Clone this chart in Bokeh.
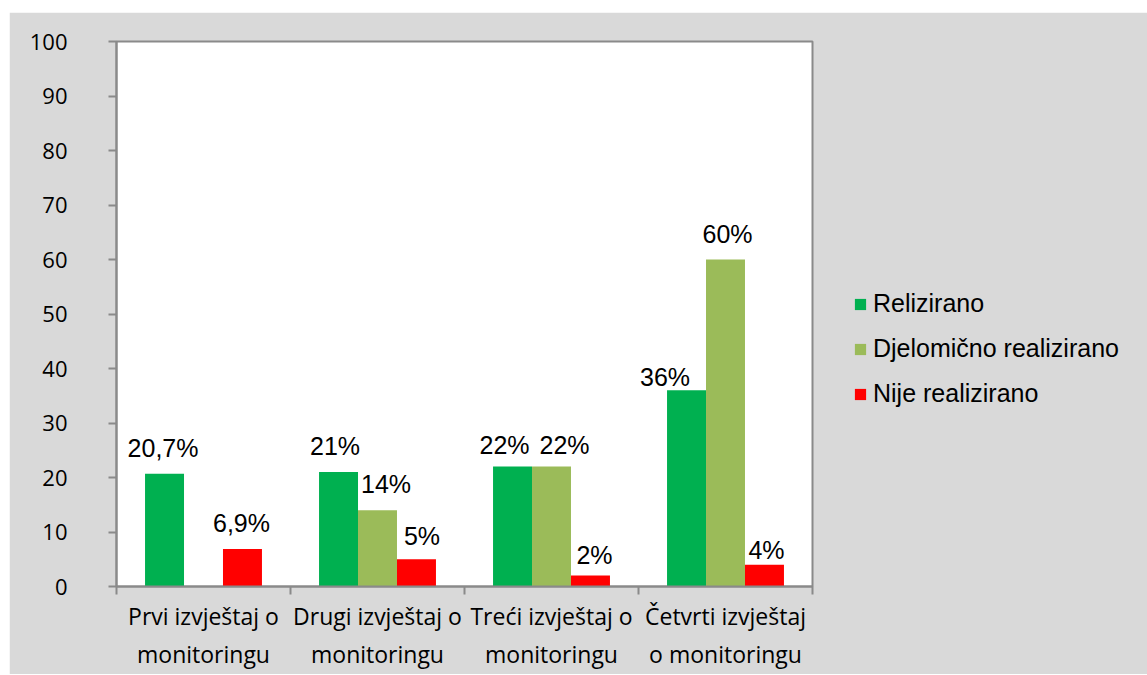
from bokeh.plotting import figure
from bokeh.models import (ColumnDataSource, Range1d, FixedTicker, Legend, LegendItem,
                          LinearAxis, Spacer)
from bokeh.layouts import column, row
from bokeh.transform import dodge
from bokeh.core.properties import value
from bokeh.embed import file_html
from bokeh.resources import INLINE

# ---- data ----
categories = ["Prvi izvještaj o\nmonitoringu", "Drugi izvještaj o\nmonitoringu",
              "Treći izvještaj o\nmonitoringu", "Četvrti izvještaj\no monitoringu"]
relizirano = [20.7, 21, 22, 36]
djelomicno = [float("nan"), 14, 22, 60]
nije = [6.9, 5, 2, 4]
relizirano_lbl = ["20,7%", "21%", "22%", "36%"]
djelomicno_lbl = ["", "14%", "22%", "60%"]
nije_lbl = ["6,9%", "5%", "2%", "4%"]
series_names = ["Relizirano", "Djelomično realizirano", "Nije realizirano"]
y_ticks = list(range(0, 101, 10))

# ---- styles ----
colors = ["#00b050", "#9bbb59", "#ff0000"]
grid_col = "#8a8a8a"
bg = "#d9d9d9"
bar_w = 0.224
offsets = [-bar_w, 0.0, bar_w]
lbl_dx = [[-1.5, -3.5, -8, -21.5], [0, 8.5, 13, 2], [-1, 5.5, 4, 2]]
lbl_dy = [[-26, -26, -22, -13], [0, -26, -22, -26], [-26, -23, -21, -15]]

centers = [i + 0.5 for i in range(len(categories))]
src = ColumnDataSource(dict(
    xc=centers, rel=relizirano, dje=djelomicno, nij=nije,
    rel_l=relizirano_lbl, dje_l=djelomicno_lbl, nij_l=nije_lbl,
    rel_dx=lbl_dx[0], dje_dx=lbl_dx[1], nij_dx=lbl_dx[2],
    rel_dy=lbl_dy[0], dje_dy=lbl_dy[1], nij_dy=lbl_dy[2],
))

p = figure(frame_width=696, frame_height=545, output_backend="svg", toolbar_location=None,
           x_range=Range1d(0, len(categories)), y_range=Range1d(0, 100),
           x_axis_type=None, y_axis_type=None,
           min_border_left=107, min_border_right=0, min_border_top=29, min_border_bottom=88)
p.background_fill_color = "white"
p.border_fill_color = bg
p.outline_line_color = grid_col
p.outline_line_width = 2

# y axis
yax = LinearAxis(ticker=FixedTicker(ticks=y_ticks))
yax.axis_line_color = grid_col
yax.axis_line_width = 2
yax.major_tick_line_color = grid_col
yax.major_tick_line_width = 2
yax.major_tick_out = 8
yax.major_tick_in = 0
yax.minor_tick_line_color = None
yax.major_label_standoff = 41
yax.major_label_text_font = "Open Sans"
yax.major_label_text_font_size = "22px"
yax.major_label_text_color = "black"
p.add_layout(yax, "left")

# x axis
xax = LinearAxis(ticker=FixedTicker(ticks=centers, minor_ticks=list(range(len(categories) + 1))))
xax.major_label_overrides = {c: lab for c, lab in zip(centers, categories)}
xax.axis_line_color = grid_col
xax.axis_line_width = 2
xax.major_tick_line_color = None
xax.major_tick_out = 0
xax.major_tick_in = 0
xax.minor_tick_line_color = grid_col
xax.minor_tick_line_width = 2
xax.minor_tick_out = 8
xax.minor_tick_in = 0
xax.major_label_standoff = 5
xax.major_label_text_font = "Open Sans"
xax.major_label_text_font_size = "23px"
xax.major_label_text_color = "black"
p.add_layout(xax, "below")

# grid
p.ygrid.ticker = FixedTicker(ticks=y_ticks)
p.ygrid.grid_line_color = grid_col
p.ygrid.grid_line_width = 2
p.xgrid.ticker = FixedTicker(ticks=list(range(len(categories) + 1)))
p.xgrid.grid_line_color = grid_col
p.xgrid.grid_line_width = 2

cols = ["rel", "dje", "nij"]
renderers = []
for k, col in enumerate(cols):
    r = p.vbar(x=dodge("xc", offsets[k], range=p.x_range), top=col, width=bar_w,
               source=src, fill_color=colors[k], line_color=None)
    renderers.append(r)
    p.text(x=dodge("xc", offsets[k], range=p.x_range), y=col, text=col + "_l",
           x_offset=col + "_dx", y_offset=col + "_dy", source=src,
           text_font=value("Liberation Sans"), text_font_size="25px",
           text_align="center", text_baseline="middle", text_color="black")

legend = Legend(items=[LegendItem(label=n, renderers=[r]) for n, r in zip(series_names, renderers)],
                location=(41, 178))
legend.background_fill_alpha = 0
legend.border_line_alpha = 0
legend.padding = 0
legend.margin = 0
legend.glyph_width = 14
legend.glyph_height = 14
legend.label_height = 24
legend.label_standoff = 6
legend.spacing = 16
legend.label_text_font = "Liberation Sans"
legend.label_text_font_size = "25px"
legend.label_text_color = "black"
p.add_layout(legend, "right")

layout = column(Spacer(height=12), row(Spacer(width=9), p))
open("out.html", "w").write(file_html(layout, INLINE))
